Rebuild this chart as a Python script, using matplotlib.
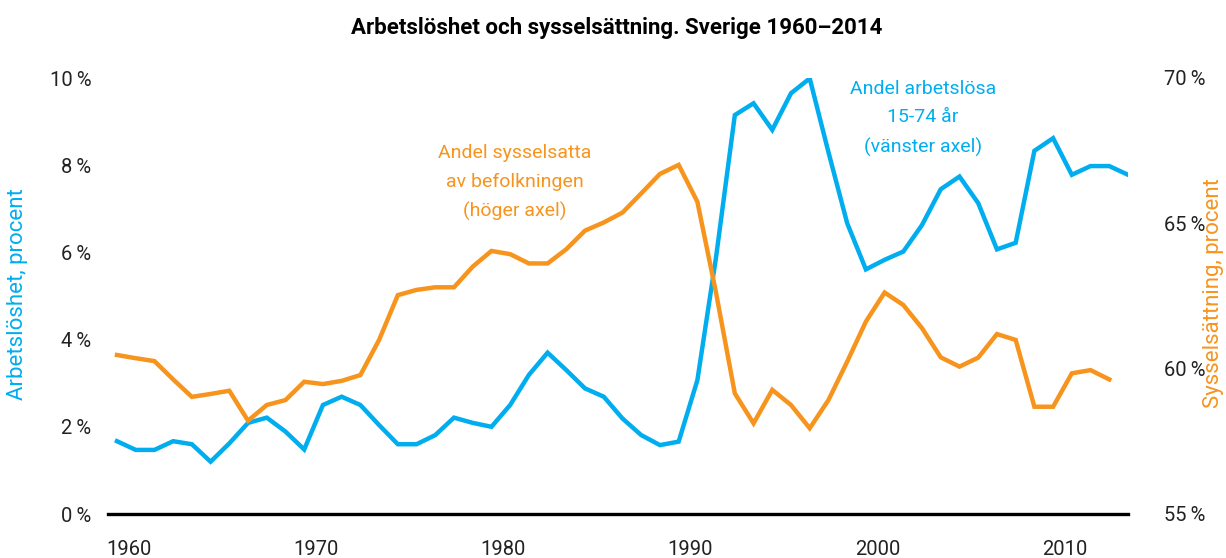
import matplotlib
matplotlib.use("Agg")
import matplotlib.pyplot as plt

plt.rcParams['font.family'] = ['Roboto', 'DejaVu Sans']

BLA = "#00AEEF"
ORANGE = "#F7941D"

# arbetslöshet 15-74 år, procent (vänster axel)
ar_arbetslos = list(range(1960, 2015))
arbetslos = [1.67, 1.47, 1.47, 1.67, 1.60, 1.20, 1.62, 2.09, 2.21, 1.89,
             1.48, 2.50, 2.69, 2.50, 2.04, 1.60, 1.60, 1.81, 2.21, 2.09,
             2.00, 2.50, 3.19, 3.70, 3.30, 2.88, 2.69, 2.19, 1.81, 1.58,
             1.66, 3.07, 5.90, 9.15, 9.42, 8.81, 9.65, 9.99, 8.30, 6.67,
             5.61, 5.83, 6.02, 6.63, 7.45, 7.74, 7.13, 6.07, 6.22, 8.33,
             8.62, 7.78, 7.98, 7.98, 7.78]

# andel sysselsatta av befolkningen, procent (höger axel)
ar_syssel = list(range(1960, 2014))
syssel = [60.47, 60.36, 60.26, 59.63, 59.03, 59.13, 59.24, 58.21, 58.75, 58.92,
          59.55, 59.47, 59.58, 59.78, 60.99, 62.53, 62.71, 62.80, 62.80, 63.51,
          64.05, 63.94, 63.62, 63.62, 64.11, 64.75, 65.03, 65.37, 66.03, 66.70,
          67.01, 65.74, 62.60, 59.15, 58.12, 59.27, 58.75, 57.95, 58.92, 60.24,
          61.62, 62.62, 62.19, 61.39, 60.39, 60.07, 60.38, 61.19, 60.99, 58.69,
          58.69, 59.84, 59.95, 59.63]

ar_etiketter = [1960, 1970, 1980, 1990, 2000, 2010]
vanster_ticks = [0, 2, 4, 6, 8, 10]
hoger_ticks = [55, 60, 65, 70]

fig = plt.figure(figsize=(12.26, 5.58), dpi=100)
ax = fig.add_axes([108/1226, 44/558, 1020/1226, 436/558])
ax2 = ax.twinx()

ax.plot(ar_arbetslos, arbetslos, color=BLA, lw=3.2, solid_joinstyle="miter", zorder=3)
ax2.plot(ar_syssel, syssel, color=ORANGE, lw=3.2, solid_joinstyle="miter", zorder=3)

ax.set_xlim(1959.52, 2014.0)
ax.set_ylim(0, 10)
ax2.set_ylim(55, 70)

for a in (ax, ax2):
    for s in ("top", "left", "right", "bottom"):
        a.spines[s].set_visible(False)
ax.axhline(0, color="black", lw=2.4, clip_on=False, zorder=5)

ax.set_xticks([y + 0.62 for y in ar_etiketter])
ax.set_xticklabels([str(y) for y in ar_etiketter])
ax.set_yticks(vanster_ticks)
ax.set_yticklabels([f"{v}\u2009%" for v in vanster_ticks])
ax2.set_yticks(hoger_ticks)
ax2.set_yticklabels([f"{v}\u2009%" for v in hoger_ticks])

ax.tick_params(axis="x", length=0, pad=19, labelsize=14.5, labelcolor="#222222")
ax.tick_params(axis="y", length=0, pad=12, labelsize=14.5, labelcolor="#222222")
ax2.tick_params(axis="y", length=0, pad=26, labelsize=14.5, labelcolor="#222222")

fig.text(18/1226, 1 - 294/558, "Arbetslöshet, procent", color=BLA, fontsize=16,
         rotation=90, ha="center", va="center")
fig.text(1214/1226, 1 - 293/558, "Sysselsättning, procent", color=ORANGE,
         fontsize=16, rotation=90, ha="center", va="center")

fig.text(0.503, 0.950, "Arbetslöshet och sysselsättning. Sverige 1960–2014",
         ha="center", va="center", fontsize=16, fontweight="bold")

ax.text(1981.26, 7.60, "Andel sysselsatta\nav befolkningen\n(höger axel)",
        color=ORANGE, ha="center", va="center", fontsize=14, linespacing=1.75)
ax.text(2003.05, 9.08, "Andel arbetslösa\n15-74 år\n(vänster axel)",
        color=BLA, ha="center", va="center", fontsize=14, linespacing=1.75)

fig.savefig("out.png", dpi=100)
